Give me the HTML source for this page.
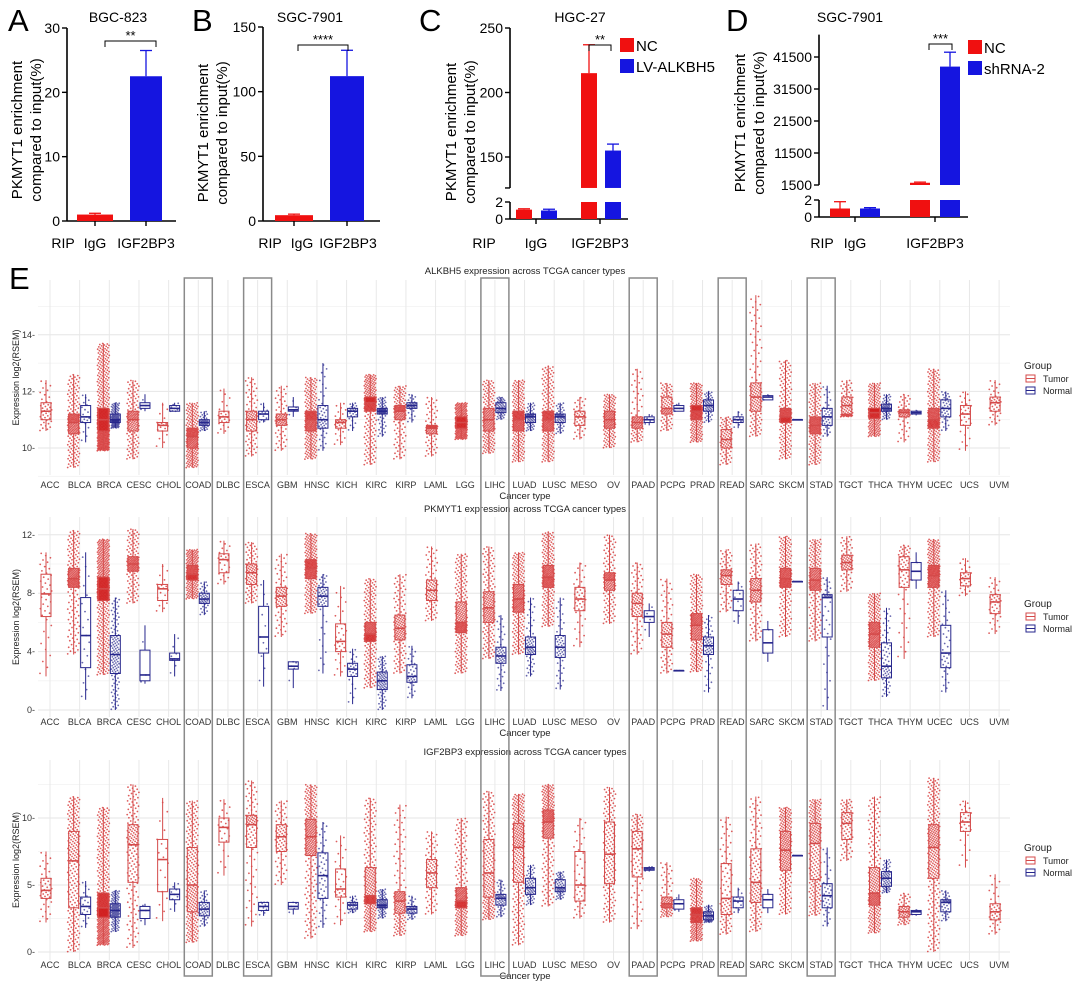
<!DOCTYPE html>
<html><head><meta charset="utf-8">
<style>
html,body{margin:0;padding:0;background:#fff;}
body{width:1080px;height:986px;overflow:hidden;font-family:"Liberation Sans","Noto Sans CJK SC",sans-serif;}
svg text{font-family:"Liberation Sans","Noto Sans CJK SC",sans-serif;}
</style></head>
<body>
<svg id="fig" width="1080" height="986" viewBox="0 0 1080 986" xmlns="http://www.w3.org/2000/svg"></svg>
<script>
// ---------- Top bar chart data ----------
const barGroups = ["IgG","IGF2BP3"];
const aValues = [1.0, 22.5];
const aErrors = [0.2, 4.0];
const bValues = [4.5, 112];
const bErrors = [0.8, 20];
const cNC = [1.1, 215];
const cNCerr = [0.1, 22];
const cLV = [1.0, 155];
const cLVerr = [0.15, 5];
const dNC = [1.0, 2200];
const dNCerr = [0.8, 200];
const dSh = [1.0, 38500];
const dShErr = [0.1, 4500];
const aTicks = [0,10,20,30];
const bTicks = [0,50,100,150];
const cTicksUpper = [150,200,250];
const cTicksLower = [0,2];
const dTicksUpper = [1500,11500,21500,31500,41500];
const dTicksLower = [0,2];

// ---------- TCGA box data: [q1, median, q3, low, high] ----------
const cancers = ["ACC","BLCA","BRCA","CESC","CHOL","COAD","DLBC","ESCA","GBM","HNSC","KICH","KIRC","KIRP","LAML","LGG","LIHC","LUAD","LUSC","MESO","OV","PAAD","PCPG","PRAD","READ","SARC","SKCM","STAD","TGCT","THCA","THYM","UCEC","UCS","UVM"];
const tumorN = [79,408,1093,304,36,457,48,184,153,520,66,533,290,173,515,371,515,501,87,303,178,179,497,166,259,469,415,150,509,120,545,57,80];
const normalN = [0,19,112,3,9,41,0,11,5,44,25,72,32,0,0,50,59,51,0,0,4,3,52,10,2,1,35,0,59,2,35,0,0];
const highlighted = ["COAD","ESCA","LIHC","PAAD","READ","STAD"];

const alkTumor = [[11.0,11.3,11.6,10.6,12.4],[10.5,10.9,11.2,9.3,12.6],[10.6,11.0,11.4,9.9,13.7],[10.6,11.0,11.3,9.6,12.4],[10.6,10.8,10.9,10.0,11.6],[10.0,10.4,10.7,9.3,11.6],[10.9,11.1,11.3,10.5,12.1],[10.6,11.0,11.3,9.7,12.5],[10.8,11.0,11.2,9.9,12.2],[10.6,11.0,11.3,9.6,12.5],[10.7,10.9,11.0,10.1,11.6],[11.3,11.6,11.8,9.4,12.6],[11.0,11.3,11.5,9.6,12.2],[10.5,10.7,10.8,9.7,11.8],[10.7,10.9,11.1,10.3,11.6],[10.6,11.0,11.4,9.8,12.4],[10.6,11.0,11.3,9.5,12.4],[10.6,11.0,11.3,9.5,12.9],[10.8,11.1,11.3,10.3,11.8],[10.7,11.0,11.3,10.0,11.9],[10.7,10.9,11.1,10.2,12.8],[11.2,11.4,11.8,10.6,12.3],[11.0,11.3,11.5,10.2,12.3],[10.0,10.3,10.65,9.4,11.1],[11.3,11.8,12.3,10.4,15.4],[10.9,11.1,11.4,9.6,13.1],[10.5,10.8,11.1,9.4,12.3],[11.2,11.5,11.8,11.1,12.4],[11.05,11.25,11.4,10.4,12.3],[11.1,11.25,11.35,10.2,11.9],[10.7,11.0,11.4,9.5,12.8],[10.8,11.2,11.5,9.9,12.0],[11.3,11.6,11.8,10.8,12.4]];
const alkNormal = [null,[10.9,11.1,11.5,10.2,11.9],[10.9,11.0,11.2,10.7,11.6],[11.4,11.5,11.6,11.3,11.9],[11.3,11.4,11.5,11.3,11.6],[10.8,10.9,11.0,10.6,11.3],null,[11.0,11.2,11.3,10.9,11.6],[11.3,11.35,11.45,11.1,11.8],[10.7,11.0,11.5,9.9,13.0],[11.1,11.3,11.4,10.6,11.6],[11.2,11.3,11.4,10.4,11.8],[11.4,11.5,11.6,10.9,11.9],null,null,[11.25,11.4,11.6,11.0,11.8],[10.9,11.1,11.2,10.6,11.6],[10.9,11.1,11.2,10.5,11.6],null,null,[10.9,11.0,11.1,10.8,11.2],[11.3,11.4,11.5,11.3,11.6],[11.3,11.5,11.7,10.9,12.0],[10.9,11.0,11.1,10.7,11.3],[11.7,11.8,11.85,11.7,11.9],[11.0,11.0,11.0,11.0,11.0],[10.8,11.1,11.4,10.4,12.2],null,[11.3,11.4,11.55,11.0,11.9],[11.2,11.25,11.3,11.15,11.35],[11.1,11.4,11.7,10.6,12.0],null,null];

const pkTumor = [[6.4,7.95,9.3,2.3,10.8],[8.4,9.0,9.7,3.8,12.3],[7.5,8.3,9.1,2.4,11.7],[9.5,10.0,10.5,7.3,12.4],[7.5,8.3,8.6,6.7,10.0],[8.9,9.3,9.9,7.6,11.0],[9.4,10.3,10.7,8.6,11.6],[8.6,9.4,10.0,7.3,11.5],[7.1,7.8,8.4,5.0,10.7],[9.0,9.7,10.3,6.6,12.1],[4.0,4.7,5.9,2.3,8.5],[4.7,5.2,6.0,1.5,9.0],[4.8,5.6,6.5,2.5,9.3],[7.5,8.2,8.9,6.1,11.2],[5.3,6.0,7.4,2.5,10.7],[6.0,7.0,8.1,3.5,11.2],[6.7,7.6,8.6,3.8,10.8],[8.4,9.1,9.9,5.7,12.2],[6.8,7.6,8.4,4.3,10.1],[8.2,8.9,9.4,5.9,12.0],[6.4,7.3,8.0,3.8,10.1],[4.3,5.2,6.0,2.5,9.0],[4.8,5.8,6.6,2.6,9.3],[8.6,9.2,9.6,6.7,11.0],[7.4,8.2,9.0,4.7,11.4],[8.4,9.0,9.7,5.0,11.9],[8.2,8.9,9.7,4.7,11.7],[9.6,10.1,10.6,8.1,11.9],[4.3,5.2,6.0,2.0,8.0],[8.4,9.6,10.5,3.5,11.3],[8.4,9.2,9.9,5.0,11.7],[8.5,9.0,9.4,7.8,10.4],[6.6,7.4,7.9,5.2,9.1]];
const pkNormal = [null,[2.9,5.1,7.7,0.7,10.8],[2.5,3.8,5.1,0.0,7.7],[2.0,2.4,4.1,1.8,5.8],[3.4,3.5,3.9,2.3,5.2],[7.3,7.6,8.0,6.5,8.8],null,[3.9,5.0,7.1,1.6,8.9],[2.8,3.0,3.3,1.5,3.3],[7.1,7.8,8.4,2.5,9.3],[2.3,2.8,3.2,0.4,4.2],[1.4,2.0,2.6,0.0,3.7],[1.9,2.3,3.1,0.8,4.4],null,null,[3.2,3.7,4.3,1.3,6.5],[3.8,4.3,5.0,2.3,7.7],[3.6,4.3,5.1,1.4,7.7],null,null,[6.0,6.4,6.8,5.0,7.3],[2.7,2.7,2.7,2.7,2.7],[3.8,4.4,5.0,1.2,6.5],[6.8,7.6,8.2,5.9,8.8],[3.9,4.6,5.5,3.3,6.1],[8.8,8.8,8.8,8.8,8.8],[5.0,7.7,7.9,0.0,9.1],null,[2.2,3.0,4.6,0.9,7.0],[8.9,9.5,10.1,8.3,10.8],[2.9,3.9,5.8,1.2,8.2],null,null];

const igfTumor = [[4.0,4.6,5.5,2.2,7.5],[3.3,6.8,9.0,0.0,11.6],[2.6,3.3,4.4,0.5,10.8],[5.2,8.0,9.5,0.3,12.5],[4.5,6.9,8.4,2.3,11.5],[3.0,5.0,7.8,0.7,11.3],[8.2,9.3,10.0,5.7,11.4],[7.8,9.5,10.2,1.9,12.8],[7.5,8.6,9.5,5.0,11.3],[7.2,8.6,9.9,1.0,12.5],[4.1,4.7,6.2,2.0,8.7],[3.6,4.2,6.3,1.5,11.5],[2.9,3.8,4.5,1.2,11.0],[4.8,5.9,6.9,2.8,9.0],[3.3,3.8,4.8,1.2,10.0],[4.1,5.9,8.4,2.4,12.0],[5.2,7.8,9.6,0.5,11.8],[8.5,9.7,10.6,3.4,12.5],[3.8,5.0,7.5,2.5,10.0],[5.1,7.3,9.7,2.2,12.3],[5.6,7.7,9.0,1.7,10.3],[3.3,3.6,4.1,2.6,6.7],[2.2,2.8,3.3,0.8,5.5],[2.8,4.0,6.6,1.3,10.1],[3.7,5.2,7.7,1.5,11.6],[6.1,7.6,9.0,2.8,10.8],[5.4,8.1,9.6,2.7,11.4],[8.4,9.6,10.4,6.8,11.4],[3.5,4.4,6.3,1.4,11.6],[2.6,3.0,3.4,2.0,4.4],[5.5,7.8,9.5,0.0,13.0],[9.0,9.7,10.4,6.3,11.3],[2.4,3.0,3.6,1.3,5.8]];
const igfNormal = [null,[2.8,3.4,4.1,1.8,5.3],[2.6,3.1,3.6,1.5,4.6],[2.5,3.1,3.4,2.0,3.6],[3.9,4.3,4.7,3.0,5.2],[2.7,3.2,3.7,1.9,4.6],null,[3.1,3.4,3.7,2.7,3.7],[3.2,3.4,3.7,2.8,3.7],[4.0,5.7,7.4,1.8,9.7],[3.2,3.5,3.7,2.9,4.2],[3.3,3.5,3.9,2.5,4.7],[2.9,3.2,3.4,2.4,4.2],null,null,[3.5,4.0,4.3,2.6,5.4],[4.3,4.8,5.5,3.5,6.5],[4.5,4.8,5.4,3.9,6.0],null,null,[6.1,6.2,6.3,6.0,6.4],[3.2,3.6,3.9,3.0,4.3],[2.4,2.7,3.0,2.2,3.5],[3.3,3.8,4.1,2.9,4.8],[3.3,3.9,4.3,2.9,4.7],[7.2,7.2,7.2,7.2,7.2],[3.3,4.2,5.1,1.9,7.8],null,[4.9,5.5,6.0,4.4,6.9],[2.8,3.0,3.1,2.7,3.2],[3.0,3.7,3.9,2.3,4.6],null,null];

const alkTicks = [10,12,14];
const pkTicks = [0,4,8,12];
const igfTicks = [0,5,10];

// ---------- helpers ----------
const NS = "http://www.w3.org/2000/svg";
const svg = document.getElementById("fig");
function mk(tag, attrs, parent){
  const e = document.createElementNS(NS, tag);
  for (const k in attrs) e.setAttribute(k, attrs[k]);
  (parent||svg).appendChild(e);
  return e;
}
function txt(s, attrs, parent){ const t = mk("text", attrs, parent); t.textContent = s; return t; }

// ---------- Top bar panels ----------
function drawBarPanel(cfg){
  const g = mk("g", {});
  
  
  const L = txt(cfg.letter, {x:cfg.letterX, y:31, "font-size":31}, g);
  
  
  const T = txt(cfg.title, {x:cfg.titleX, y:22, "font-size":14, "text-anchor":"middle"}, g);
  
  
  const yt = mk("g", {transform:`translate(${cfg.ytX},${cfg.ytY}) rotate(-90)`}, g);
  
  
  txt("PKMYT1 enrichment", {x:0, y:0, "font-size":15, "text-anchor":"middle"}, yt);
  txt("compared to input(%)", {x:0, y:19, "font-size":15, "text-anchor":"middle"}, yt);
  cfg.segments.forEach(s=>{
    const a = mk("line", {x1:cfg.axisX, x2:cfg.axisX, y1:s.y(s.top), y2:s.y(s.bottom), stroke:"#000","stroke-width":1.6}, g);
    
    
    s.ticks.forEach(t=>{
      mk("line", {x1:cfg.axisX-5, x2:cfg.axisX, y1:s.y(t), y2:s.y(t), stroke:"#000","stroke-width":1.4}, g);
      const tl = txt(String(t), {x:cfg.axisX-7, y:s.y(t)+5, "font-size":14, "text-anchor":"end"}, g);
      
      
    });
    if (s.endTick) mk("line", {x1:cfg.axisX-5, x2:cfg.axisX, y1:s.y(s.bottom), y2:s.y(s.bottom), stroke:"#000","stroke-width":1.4}, g);
  });
  const base = cfg.segments[cfg.segments.length-1].y(0);
  const xa = mk("line", {x1:cfg.axisX, x2:cfg.axisEnd, y1:base, y2:base, stroke:"#000","stroke-width":1.6}, g);
  
  
  cfg.groupTicks.forEach(x=>mk("line",{x1:x,x2:x,y1:base,y2:base+5,stroke:"#000","stroke-width":1.4},g));
  const lbls = [["RIP",cfg.ripX]].concat(barGroups.map((gname,i)=>[gname,cfg.labelX[i]]));
  lbls.forEach(([s,x])=>{
    const t = txt(s, {x:x, y:248, "font-size":14, "text-anchor":"middle"}, g);
    
    
  });
  cfg.series.forEach(ser=>{
    ser.values.forEach((v,i)=>{
      if (v === null || v <= 0) return;
      const x0 = ser.x[i], w = ser.w;
      cfg.segments.forEach(s=>{
        if (v <= s.bottom) return;
        const top = Math.min(v, s.top);
        const r = mk("rect", {x:x0, y:s.y(top), width:w, height:s.y(s.bottom)-s.y(top), fill:ser.color}, g);
        
        
      });
      const e = v + ser.err[i];
      const seg = cfg.segments.find(s=>v>s.bottom && v<=s.top*1.0001) || cfg.segments[cfg.segments.length-1];
      const cx = x0 + w/2;
      mk("line", {x1:cx, x2:cx, y1:seg.y(v), y2:seg.y(Math.min(e, seg.top)), stroke:ser.color, "stroke-width":1.3}, g);
      mk("line", {x1:cx-6, x2:cx+6, y1:seg.y(Math.min(e, seg.top)), y2:seg.y(Math.min(e, seg.top)), stroke:ser.color, "stroke-width":1.3}, g);
    });
  });
  const br = cfg.bracket;
  const bg = mk("g", {}, g);
  
  
  mk("path", {d:`M${br.x1} ${br.y+6} V${br.y} H${br.x2} V${br.y+6}`, fill:"none", stroke:"#000", "stroke-width":1}, bg);
  txt(br.stars, {x:(br.x1+br.x2)/2, y:br.y-1, "font-size":13, "text-anchor":"middle"}, bg);
  if (cfg.legend){
    cfg.legend.forEach((l,i)=>{
      const lg = mk("g", {}, g);
      
      
      mk("rect", {x:cfg.legendX, y:cfg.legendY + i*21, width:14, height:14, fill:l.color}, lg);
      txt(l.label, {x:cfg.legendX+16, y:cfg.legendY + i*21 + 13, "font-size":15}, lg);
    });
  }
}
const RED = "#f01010", BLUE = "#1515e0";
drawBarPanel({name:"panel-a", letter:"A", letterX:8, title:"BGC-823", titleX:118, ytX:22, ytY:130, axisX:67, axisEnd:176,
  segments:[{top:30,bottom:0,ticks:aTicks,y:v=>221-v*(193/30)}], groupTicks:[95,146], ripX:63, labelX:[95,146],
  series:[{key:"igg-red",values:[aValues[0],null],err:[aErrors[0],0],x:[77,0],w:36,color:RED},{key:"igf2bp3-blue",values:[null,aValues[1]],err:[0,aErrors[1]],x:[0,130],w:32,color:BLUE}],
  bracket:{x1:105,x2:156,y:41,stars:"**"}});
drawBarPanel({name:"panel-b", letter:"B", letterX:192, title:"SGC-7901", titleX:310, ytX:208, ytY:133, axisX:263, axisEnd:380,
  segments:[{top:150,bottom:0,ticks:bTicks,y:v=>221-v*(194/150)}], groupTicks:[294,347], ripX:270, labelX:[302,348],
  series:[{key:"igg-red",values:[bValues[0],null],err:[bErrors[0],0],x:[275,0],w:38,color:RED},{key:"igf2bp3-blue",values:[null,bValues[1]],err:[0,bErrors[1]],x:[0,330],w:34,color:BLUE}],
  bracket:{x1:298,x2:348,y:45,stars:"****"}});
drawBarPanel({name:"panel-c", letter:"C", letterX:419, title:"HGC-27", titleX:580, ytX:456, ytY:132, axisX:510, axisEnd:628,
  segments:[{top:250,bottom:126,ticks:cTicksUpper,endTick:true,y:v=>28+(250-v)*1.29},{top:2,bottom:0,ticks:cTicksLower,y:v=>219-v*8.5}],
  groupTicks:[536,600], ripX:484, labelX:[536,600],
  series:[{key:"nc",values:cNC,err:cNCerr,x:[516,581],w:16,color:RED},{key:"lv-alkbh5",values:cLV,err:cLVerr,x:[541,605],w:16,color:BLUE}],
  bracket:{x1:589,x2:611,y:45,stars:"**"},
  legend:[{label:"NC",color:RED},{label:"LV-ALKBH5",color:BLUE}], legendX:620, legendY:38});
drawBarPanel({name:"panel-d", letter:"D", letterX:726, title:"SGC-7901", titleX:850, ytX:745, ytY:123, axisX:819, axisEnd:968,
  segments:[{top:48500,bottom:1500,ticks:dTicksUpper,y:v=>185-(v-1500)*0.0032},{top:2,bottom:0,ticks:dTicksLower,y:v=>217-v*8.5}],
  groupTicks:[855,935], ripX:822, labelX:[855,935],
  series:[{key:"nc",values:dNC,err:dNCerr,x:[830,910],w:20,color:RED},{key:"shrna-2",values:dSh,err:dShErr,x:[860,940],w:20,color:BLUE}],
  bracket:{x1:929,x2:952,y:44,stars:"***"},
  legend:[{label:"NC",color:RED},{label:"shRNA-2",color:BLUE}], legendX:968, legendY:40});

// ---------- TCGA panels ----------
const PX0 = 38, PX1 = 1010;
const catX = i => 50 + i*29.66;
const E = txt("E", {x:9, y:289, "font-size":31});



function quant(s, p){
  const [q1,m,q3,lo,hi] = s;
  if (p < 0.25) return lo + (q1-lo)*(p/0.25);
  if (p < 0.5) return q1 + (m-q1)*((p-0.25)/0.25);
  if (p < 0.75) return m + (q3-m)*((p-0.5)/0.25);
  return q3 + (hi-q3)*((p-0.75)/0.25);
}

function drawTcga(cfg){
  const g = mk("g", {});
  
  
  const y = v => cfg.y0 - (v - cfg.v0)*cfg.k;
  const grid = mk("g", {}, g);
  
  
  cfg.minor.forEach(v=>mk("line",{x1:PX0,x2:PX1,y1:y(v),y2:y(v),stroke:"#f2f2f2","stroke-width":0.8},grid));
  cfg.ticks.forEach(v=>mk("line",{x1:PX0,x2:PX1,y1:y(v),y2:y(v),stroke:"#e6e6e6","stroke-width":1},grid));
  cancers.forEach((c,i)=>mk("line",{x1:catX(i),x2:catX(i),y1:cfg.top,y2:cfg.bottom,stroke:"#e8e8e8","stroke-width":1},grid));
  const t = txt(cfg.title, {x:525, y:cfg.titleY, "font-size":9.5, "text-anchor":"middle", fill:"#222"}, g);
  
  
  const yt = txt("Expression log2(RSEM)", {x:0,y:0,"font-size":9,"text-anchor":"middle",fill:"#222",transform:`translate(19,${(cfg.top+cfg.bottom)/2}) rotate(-90)`}, g);
  
  
  cfg.ticks.forEach(v=>{
    const tl = txt(v+"-", {x:35, y:y(v)+3, "font-size":9, "text-anchor":"end", fill:"#333"}, g);
    
    
  });
  cancers.forEach((c,i)=>{
    const tl = txt(c, {x:catX(i), y:cfg.labelY, "font-size":9, "text-anchor":"middle", fill:"#333"}, g);
    
    
  });
  const xt = txt("Cancer type", {x:525, y:cfg.labelY+11, "font-size":9.5, "text-anchor":"middle", fill:"#222"}, g);
  
  
  function drawGroup(s, n, cx, color, boxColor, jitter, name){
    if (!s) return;
    const gg = mk("g", {}, g);
    
    
    const cnt = Math.max(1, n);
    for (let j=0;j<cnt;j++){
      const p = (j+0.5)/cnt;
      const fr = ((j*0.6180339887) % 1) - 0.5;
      mk("circle", {cx:(cx + fr*jitter).toFixed(1), cy:y(quant(s,p)).toFixed(1), r:0.9, fill:color, "fill-opacity":0.7}, gg);
    }
    const [q1,m,q3,lo,hi] = s;
    mk("line", {x1:cx,x2:cx,y1:y(lo),y2:y(q1),stroke:boxColor,"stroke-width":1}, gg);
    mk("line", {x1:cx,x2:cx,y1:y(q3),y2:y(hi),stroke:boxColor,"stroke-width":1}, gg);
    mk("rect", {x:cx-5,y:y(q3),width:10,height:Math.max(0.5,y(q1)-y(q3)),fill:"none",stroke:boxColor,"stroke-width":1}, gg);
    mk("line", {x1:cx-5,x2:cx+5,y1:y(m),y2:y(m),stroke:boxColor,"stroke-width":1.6}, gg);
  }
  cancers.forEach((c,i)=>{
    const hasN = cfg.normal[i] !== null;
    drawGroup(cfg.tumor[i], Math.round(tumorN[i]/2), catX(i) - (hasN?6:4), "#d01818", "#d44a4a", 12, "box-tumor-" + c.toLowerCase());
    drawGroup(cfg.normal[i], normalN[i], catX(i) + 6, "#26268c", "#26268c", 8, "box-normal-" + c.toLowerCase());
  });
  const lg = mk("g", {}, g);
  
  
  txt("Group", {x:1024, y:cfg.legendY, "font-size":10, fill:"#222"}, lg);
  [["Tumor","#d44a4a"],["Normal","#26268c"]].forEach(([lab,col],i)=>{
    const yy = cfg.legendY + 12 + i*12;
    const e = mk("g", {}, lg);
    
    
    mk("rect", {x:1026, y:yy-6, width:9, height:7, fill:"none", stroke:col, "stroke-width":1}, e);
    mk("line", {x1:1026, x2:1035, y1:yy-2.5, y2:yy-2.5, stroke:col, "stroke-width":1}, e);
    txt(lab, {x:1043, y:yy+1, "font-size":9, fill:"#222"}, e);
  });
}
drawTcga({name:"alkbh5-chart", title:"ALKBH5 expression across TCGA cancer types", titleY:274, top:280, bottom:475, y0:448, v0:10, k:28.3,
  ticks:alkTicks, minor:[9,11,13,15], tumor:alkTumor, normal:alkNormal, labelY:488, legendY:369});
drawTcga({name:"pkmyt1-chart", title:"PKMYT1 expression across TCGA cancer types", titleY:512, top:517, bottom:717, y0:710, v0:0, k:14.6,
  ticks:pkTicks, minor:[2,6,10], tumor:pkTumor, normal:pkNormal, labelY:725, legendY:607});
drawTcga({name:"igf2bp3-chart", title:"IGF2BP3 expression across TCGA cancer types", titleY:755, top:760, bottom:960, y0:952, v0:0, k:13.4,
  ticks:igfTicks, minor:[2.5,7.5,12.5], tumor:igfTumor, normal:igfNormal, labelY:968, legendY:851});

highlighted.forEach(c=>{
  const i = cancers.indexOf(c);
  const r = mk("rect", {x:catX(i)-14, y:278, width:28, height:698, fill:"none", stroke:"#8a8a8a", "stroke-width":1.5});
  
  
});
</script>
</body></html>
